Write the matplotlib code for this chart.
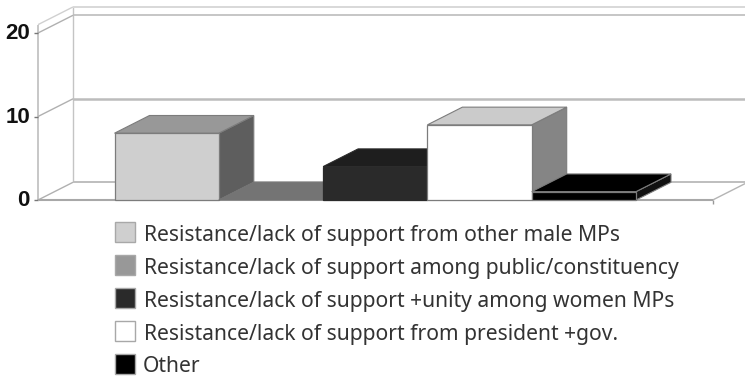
import matplotlib
matplotlib.use("Agg")
import matplotlib.pyplot as plt
from matplotlib.patches import Polygon, Rectangle

labels = ["Resistance/lack of support from other male MPs",
          "Resistance/lack of support among public/constituency",
          "Resistance/lack of support +unity among women MPs",
          "Resistance/lack of support from president +gov.",
          "Other"]
values = [8, 0, 4, 9, 1]
y_ticks = [0, 10, 20]

front_colors = ["#cfcfcf", "#989898", "#2a2a2a", "#ffffff", "#000000"]
top_colors = ["#989898", "#747474", "#1e1e1e", "#cbcbcb", "#000000"]
side_colors = ["#5e5e5e", "#747474", "#1e1e1e", "#858585", "#111111"]

# pixel sizes of the picture
W, H = 745, 377
slot_px = 104.3
unit_px = 8.35
x0_px, y0_px = 114.5, 200
depth_x = 35 / slot_px
depth_y = 17.7 / unit_px

fig = plt.figure(figsize=(W / 100, H / 100), dpi=100)
ax = fig.add_axes([0, 0, 1, 1])
ax.set_xlim(-x0_px / slot_px, (W - x0_px) / slot_px)
ax.set_ylim(-(H - y0_px) / unit_px, y0_px / unit_px)
ax.axis("off")

# left and right end of the floor, in slots
left = (38 - x0_px) / slot_px
right = (712.7 - x0_px) / slot_px
top = 21


def px(x, y):
    return (x - x0_px) / slot_px, (y0_px - y) / unit_px


def line(xs, ys, color="#b4b4b4", lw=1.0):
    ax.plot(xs, ys, color=color, lw=lw, solid_capstyle="butt")


# walls and grid
line([left, left], [0, top], "#bdbdbd", 1.2)
line([left + depth_x] * 2, [depth_y, top + depth_y], "#c4c4c4", 1.0)
line([left, left + depth_x], [top, top + depth_y], "#d0d0d0")
line([left + depth_x, right + depth_x], [top + depth_y] * 2, "#d8d8d8", 1.4)
line([left + depth_x, right + depth_x], [depth_y, depth_y], "#c8c8c8", 1.2)
line([right, right + depth_x], [0, depth_y], "#b4b4b4")
for t in y_ticks:
    line([left, left + depth_x], [t, t + depth_y], "#b0b0b0")
    line([left + depth_x, right + depth_x], [t + depth_y] * 2,
         "#bcbcbc", 1.8 if t == 10 else 1.2)
    line([left - 4 / slot_px, left], [t, t], "#777777")
    ax.text(left - 8 / slot_px, t - 0.1, str(t), ha="right", va="center",
            family="Liberation Sans", weight="bold", fontsize=16, color="#111111")
line([left, right], [0, 0], "#a8a8a8", 1.5)
line([right, right], [0, -0.5], "#999999", 1.0)

# bars
for i, v in enumerate(values):
    a, b = i, i + 1
    edge = "#7c7c7c" if i != 2 else "#2a2a2a"
    if i == 1:
        edge = "#747474"
    ax.add_patch(Polygon([(b, 0), (b + depth_x, depth_y), (b + depth_x, v + depth_y), (b, v)],
                         fc=side_colors[i], ec=edge, lw=0.8, zorder=3 + i))
    ax.add_patch(Polygon([(a, v), (b, v), (b + depth_x, v + depth_y), (a + depth_x, v + depth_y)],
                         fc=top_colors[i], ec=edge, lw=0.8, zorder=3 + i))
    if v > 0:
        ax.add_patch(Rectangle((a, 0), 1, v, fc=front_colors[i], ec=edge, lw=0.9, zorder=3 + i))

# legend
row_y = [232, 265, 298, 331, 363.5]
for i, lab in enumerate(labels):
    x, y = px(115, row_y[i] + 10)
    ax.add_patch(Rectangle((x, y), 20 / slot_px, 20 / unit_px,
                           fc=front_colors[i], ec="#a8a8a8", lw=1.0, zorder=10))
    tx, ty = px(144 if i < 4 else 143, row_y[i] + 8.8)
    ax.text(tx, ty, lab, ha="left", va="baseline", family="Noto Sans",
            fontsize=15.2, color="#333333")

fig.savefig("out.png", dpi=100)
